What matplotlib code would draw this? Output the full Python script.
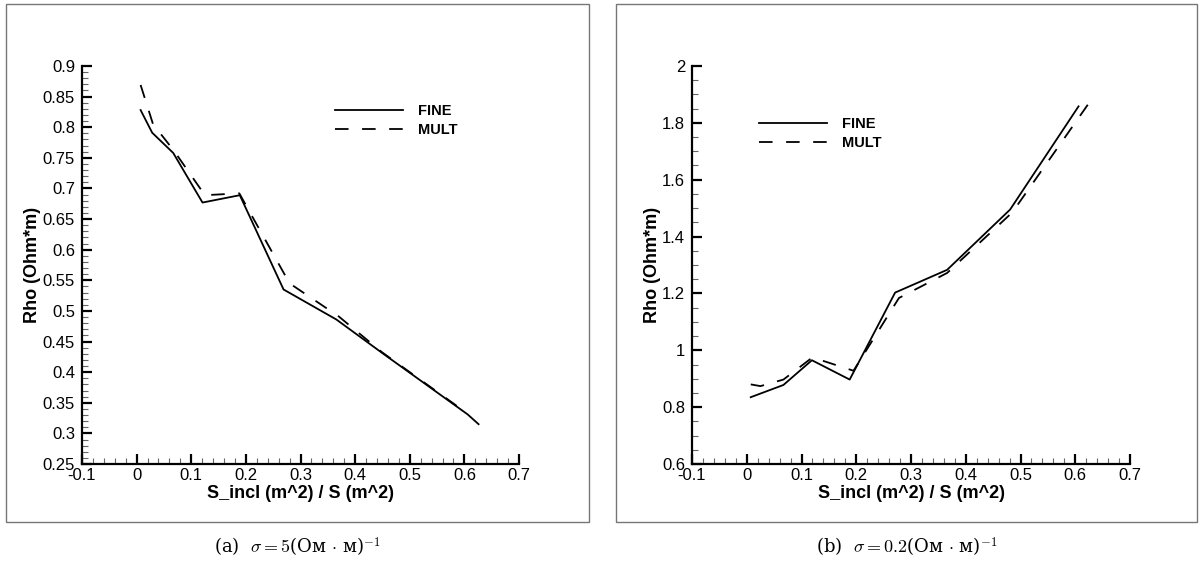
import matplotlib
matplotlib.use("Agg")
import matplotlib.pyplot as plt
from matplotlib.patches import Rectangle
from matplotlib.ticker import MultipleLocator

plt.rcParams["font.family"] = ["Liberation Sans", "DejaVu Sans"]
plt.rcParams["mathtext.fontset"] = "cm"

# sigma = 5 (Ohm*m)^-1
x_fine_a = [0.0073, 0.0285, 0.067, 0.1206, 0.1889, 0.269, 0.3656, 0.45, 0.5, 0.606, 0.626]
rho_fine_a = [0.828, 0.791, 0.758, 0.677, 0.689, 0.535, 0.486, 0.431, 0.399, 0.331, 0.315]
x_mult_a = [0.0073, 0.03, 0.068, 0.125, 0.188, 0.28, 0.37, 0.45, 0.5, 0.600]
rho_mult_a = [0.869, 0.805, 0.762, 0.689, 0.692, 0.545, 0.491, 0.432, 0.400, 0.336]

# sigma = 0.2 (Ohm*m)^-1
x_fine_b = [0.0073, 0.067, 0.119, 0.188, 0.271, 0.366, 0.481, 0.606]
rho_fine_b = [0.835, 0.878, 0.965, 0.897, 1.203, 1.283, 1.495, 1.858]
x_mult_b = [0.0073, 0.025, 0.067, 0.12, 0.195, 0.278, 0.366, 0.485, 0.631]
rho_mult_b = [0.880, 0.874, 0.897, 0.975, 0.928, 1.184, 1.272, 1.485, 1.886]

xlabel = "S_incl (m^2) / S (m^2)"
ylabel = "Rho (Ohm*m)"
captions = [r"(a)  $\sigma = 5$(Ом $\cdot$ м)$^{-1}$",
            r"(b)  $\sigma = 0.2$(Ом $\cdot$ м)$^{-1}$"]

W, H = 1200, 563
fig = plt.figure(figsize=(W / 100, H / 100), dpi=100)


def px(x0, y0, x1, y1):
    # pixel box (top-left origin) -> figure fraction rect
    return [x0 / W, 1 - y1 / H, (x1 - x0) / W, (y1 - y0) / H]


def setup(ax, ylim, ymaj, ymin):
    ax.set_xlim(-0.1, 0.7)
    ax.set_ylim(*ylim)
    ax.xaxis.set_major_locator(MultipleLocator(0.1))
    ax.xaxis.set_minor_locator(MultipleLocator(0.02))
    ax.yaxis.set_major_locator(MultipleLocator(ymaj))
    ax.yaxis.set_minor_locator(MultipleLocator(ymin))
    for s in ("top", "right"):
        ax.spines[s].set_visible(False)
    for s in ("left", "bottom"):
        ax.spines[s].set_linewidth(1.6)
    ax.tick_params(which="major", direction="in", length=7, width=1.6,
                   labelsize=12, pad=3)
    ax.tick_params(which="minor", direction="in", length=4, width=0.8,
                   color="#666666")
    ax.tick_params(axis="y", which="major", pad=5)
    ax.set_xlabel(xlabel, fontsize=13, fontweight="bold", labelpad=1)
    ax.set_ylabel(ylabel, fontsize=13, fontweight="bold", labelpad=1)
    ax.xaxis.set_major_formatter(lambda v, p: f"{v:g}")
    ax.yaxis.set_major_formatter(lambda v, p: f"{v:g}")


line_kw = dict(color="black", lw=1.3)
dash_kw = dict(color="black", lw=1.3, ls=(0, (7.5, 7.5)))
leg_kw = dict(loc="upper left", frameon=False, handlelength=4.7,
              handletextpad=1.0, labelspacing=0.35, borderpad=0,
              borderaxespad=0, prop=dict(weight="bold", size=10.5))

ax1 = fig.add_axes(px(82, 66, 519, 464))
ax1.plot(x_fine_a, rho_fine_a, label="FINE", **line_kw)
ax1.plot(x_mult_a, rho_mult_a, label="MULT", **dash_kw)
setup(ax1, (0.25, 0.9), 0.05, 0.01)
ax1.legend(bbox_to_anchor=(0.578, 0.905), **leg_kw)

ax2 = fig.add_axes(px(692, 66, 1130, 464))
ax2.plot(x_fine_b, rho_fine_b, label="FINE", **line_kw)
ax2.plot(x_mult_b, rho_mult_b, label="MULT", **dash_kw)
setup(ax2, (0.6, 2.0), 0.2, 0.05)
ax2.legend(bbox_to_anchor=(0.152, 0.872), **leg_kw)

# grey frames around each panel
for x0, x1 in ((6, 589), (616, 1197)):
    fig.patches.append(Rectangle((x0 / W, 1 - 522 / H), (x1 - x0) / W, (522 - 4) / H,
                                 transform=fig.transFigure, fill=False,
                                 edgecolor="#777777", lw=1.0))

for cap, xc in zip(captions, (297.5, 906.5)):
    fig.text(xc / W, 1 - 547 / H, cap, ha="center", va="center", fontsize=13,
             family=["DejaVu Serif"])

fig.savefig("out.png", dpi=100)
